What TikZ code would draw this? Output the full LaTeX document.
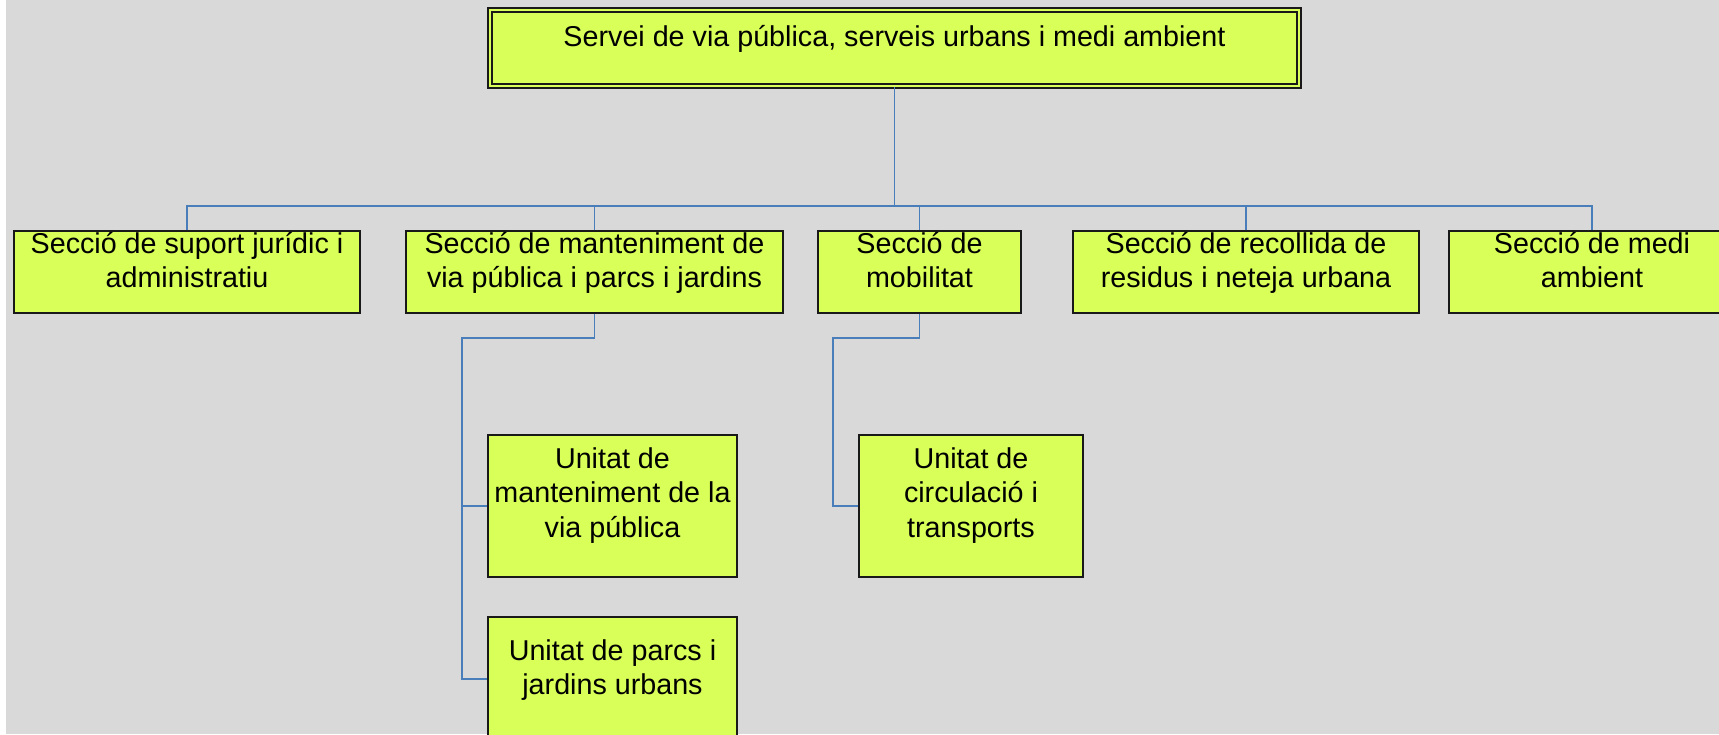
\documentclass[tikz,border=0pt]{standalone}
\usepackage{fontspec}
\setmainfont{Liberation Sans}
\definecolor{boxfill}{RGB}{217,255,89}
\definecolor{bggray}{RGB}{217,217,217}
\definecolor{linkblue}{RGB}{74,126,187}

\begin{document}
\begin{tikzpicture}[x=1pt,y=-1pt,
    box/.style={draw=black!90,line width=1.8pt,fill=boxfill,inner sep=0pt},
    txt/.style={inner sep=0pt,align=center,font=\fontsize{28.7}{34.5}\selectfont},
    conn/.style={draw=linkblue,line width=1.8pt}]
\clip (0,0) rectangle (1719,734);
\fill[white] (0,0) rectangle (1719,734);
\fill[bggray] (6,0) rectangle (1719,734);

% boxes
\node[box,double=boxfill,double distance=2.5pt,minimum width=809pt,minimum height=76pt] (serv) at (894.5,48) {};
\node[box,minimum width=346pt,minimum height=82pt] (juridic) at (187,272) {};
\node[box,minimum width=377pt,minimum height=82pt] (manteniment) at (594.5,272) {};
\node[box,minimum width=203pt,minimum height=82pt] (mobilitat) at (919.5,272) {};
\node[box,minimum width=346pt,minimum height=82pt] (residus) at (1246,272) {};
\node[box,minimum width=286pt,minimum height=82pt] (medi) at (1592,272) {};
\node[box,minimum width=249pt,minimum height=142pt] (viapub) at (612.5,506) {};
\node[box,minimum width=249pt,minimum height=123pt] (parcs) at (612.5,678.7) {};
\node[box,minimum width=224pt,minimum height=142pt] (circulacio) at (971,506) {};

% texts
\node[txt] (serv-t) at (894.5,38.5) {Servei de via pública, serveis urbans i medi ambient};
\node[txt] (juridic-t) at (187,260) {Secció de suport jurídic i\\administratiu};
\node[txt] (manteniment-t) at (594.5,263) {Secció de manteniment de\\via pública i parcs i jardins};
\node[txt] (mobilitat-t) at (919.5,260) {Secció de\\mobilitat};
\node[txt] (residus-t) at (1246,263) {Secció de recollida de\\residus i neteja urbana};
\node[txt] (medi-t) at (1592,260) {Secció de medi\\ambient};
\node[txt] (viapub-t) at (612.5,495.5) {Unitat de\\manteniment de la\\via pública};
\node[txt] (parcs-t) at (612.5,670) {Unitat de parcs i\\jardins urbans};
\node[txt] (circulacio-t) at (971,495.5) {Unitat de\\circulació i\\transports};

% connectors
\coordinate (bus) at (894.5,206);
\draw[conn] (serv.south) -- (bus);
\foreach \n in {juridic,manteniment,mobilitat,residus,medi}
  \draw[conn] (\n.north) |- (bus);

\coordinate (mk) at (462,338);
\draw[conn] (manteniment.south) |- (mk) |- (parcs.west);
\draw[conn] (mk |- viapub.west) -- (viapub.west);
\coordinate (bk) at (833,338);
\draw[conn] (mobilitat.south) |- (bk) |- (circulacio.west);
\end{tikzpicture}
\end{document}
